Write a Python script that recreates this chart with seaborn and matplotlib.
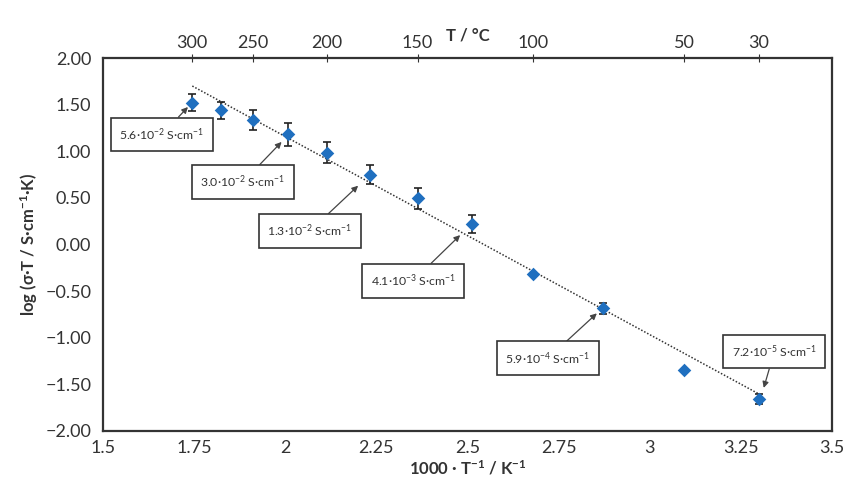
import numpy as np
import pandas as pd
import matplotlib
matplotlib.use("Agg")
import matplotlib.pyplot as plt
import seaborn as sns

# ---- data ----
temps_c = [300, 275, 250, 225, 200, 175, 150, 125, 100, 75, 50, 30]
log_sigma_t = [1.52, 1.44, 1.335, 1.18, 0.985, 0.75, 0.495, 0.22, -0.32, -0.685, -1.35, -1.66]
err = [0.09, 0.09, 0.11, 0.12, 0.11, 0.10, 0.115, 0.10, 0.0, 0.06, 0.0, 0.05]

fit_slope = -2.126
fit_intercept = 5.41
fit_range = [1.745, 3.30]

top_ticks_c = [300, 250, 200, 150, 100, 50, 30]
x_ticks = [1.5, 1.75, 2.0, 2.25, 2.5, 2.75, 3.0, 3.25, 3.5]
y_ticks = [-2.0, -1.5, -1.0, -0.5, 0.0, 0.5, 1.0, 1.5, 2.0]

ann_texts = [r"5.6·10$^{-2}$ S·cm$^{-1}$", r"3.0·10$^{-2}$ S·cm$^{-1}$",
             r"1.3·10$^{-2}$ S·cm$^{-1}$", r"4.1·10$^{-3}$ S·cm$^{-1}$",
             r"5.9·10$^{-4}$ S·cm$^{-1}$", r"7.2·10$^{-5}$ S·cm$^{-1}$"]
ann_tip = [(1.733, 1.475), (1.99, 1.10), (2.20, 0.63), (2.48, 0.10), (2.855, -0.74), (3.313, -1.54)]
ann_box = [(1.662, 1.18), (1.884, 0.67), (2.068, 0.145), (2.351, -0.39), (2.721, -1.222), (3.342, -1.15)]

df = pd.DataFrame({"x": [1000.0 / (t + 273.15) for t in temps_c], "y": log_sigma_t, "err": err})

sns.set_theme(style="white")
plt.rcParams["font.family"] = ["Lato", "DejaVu Sans"]
plt.rcParams["mathtext.fontset"] = "custom"
plt.rcParams["mathtext.rm"] = "Lato"
plt.rcParams["mathtext.default"] = "regular"

fig = plt.figure(figsize=(8.48, 4.84), dpi=100)
ax = fig.add_axes([0.1215, 0.110, 0.8595, 0.770])

ax.errorbar(df["x"], df["y"], yerr=df["err"], fmt="none", ecolor="#222222",
            elinewidth=1.2, capsize=3, capthick=1.2, zorder=2)
sns.scatterplot(data=df, x="x", y="y", marker="D", s=48, color="#1f6fbf",
                edgecolor="#1f6fbf", linewidth=0, ax=ax, zorder=3)

fx = np.array(fit_range)
ax.plot(fx, fit_intercept + fit_slope * fx, linestyle=(0, (1, 1.2)), color="#333333",
        linewidth=1.1, zorder=1)

for txt, tip, box in zip(ann_texts, ann_tip, ann_box):
    ax.annotate(txt, xy=tip, xytext=box, ha="center", va="center", fontsize=8.8,
                color="#333333",
                bbox=dict(boxstyle="square,pad=0.7", fc="white", ec="#333333", lw=1.2),
                arrowprops=dict(arrowstyle="-|>", color="#444444", lw=0.9,
                                mutation_scale=9, shrinkA=0, shrinkB=0),
                zorder=4)

ax.set_xlim(1.5, 3.5)
ax.set_ylim(-2.0, 2.0)
ax.set_xticks(x_ticks)
ax.set_yticks(y_ticks)
ax.set_xticklabels([f"{v:g}" for v in x_ticks])
ax.set_yticklabels([f"{v:.2f}".replace("-", "\u2212") for v in y_ticks])
ax.tick_params(axis="both", labelsize=13, colors="#333333", length=5, width=1.2)
ax.tick_params(axis="x", direction="inout", length=7)
ax.tick_params(axis="y", direction="out", length=5)
for s in ax.spines.values():
    s.set_color("#333333")
    s.set_linewidth(1.6)

ax.set_xlabel("1000 · T$^{-1}$ / K$^{-1}$", fontsize=12, fontweight="bold", color="#333333", labelpad=2)
ax.set_ylabel("log (σ·T / S·cm$^{-1}$·K)", fontsize=12, fontweight="bold", color="#333333", labelpad=4)

sec = ax.secondary_xaxis("top", functions=(lambda x: 1000.0 / np.asarray(x, float) - 273.15,
                                            lambda t: 1000.0 / (np.asarray(t, float) + 273.15)))
sec.set_xticks(top_ticks_c)
sec.set_xticklabels([str(t) for t in top_ticks_c])
sec.tick_params(labelsize=13, colors="#333333", direction="inout", length=6, width=0.8, pad=2)
sec.spines["top"].set_visible(False)
sec.set_xlabel("T / °C", fontsize=12, fontweight="bold", color="#333333", labelpad=-4)

fig.savefig("out.png", dpi=100)
